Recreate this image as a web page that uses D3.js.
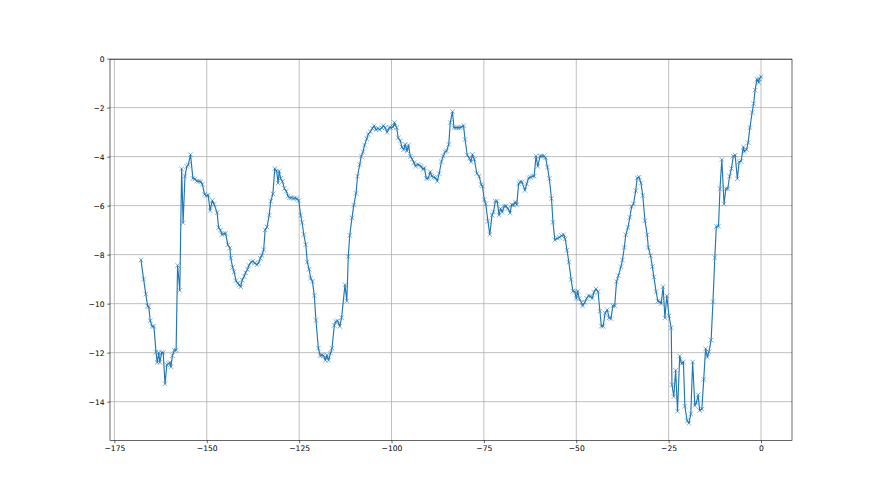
<!DOCTYPE html>
<html>
<head>
<meta charset="utf-8">
<script src="https://cdn.jsdelivr.net/npm/d3@7"></script>
<style>
  body { margin: 0; background: #fff; }
  text { font-family: "DejaVu Sans", sans-serif; }
</style>
</head>
<body>
<div id="chart"></div>
<script>
// data, three stretches west -> east
var xWest = [-167.8,-167.1,-166.5,-166.0,-165.7,-165.3,-164.8,-164.3,-163.75,-163.4,
  -163.0,-162.7,-162.2,-161.8,-161.3,-160.8,-160.4,-160.0,-159.7,-159.3,
  -158.8,-158.3,-157.9,-157.3,-156.8,-156.4,-155.9,-155.4,-155.0,-154.4,
  -153.75,-153.2,-152.7,-152.1,-151.6,-151.2,-150.6,-150.1,-149.6,-149.1,
  -148.5,-148.0,-147.2,-146.8,-146.3,-145.9,-145.4,-144.9,-144.3,-143.75,
  -143.5,-143.0,-142.6,-142.1,-141.6,-141.25,-140.8,-140.4,-139.9,-139.5,
  -139.0,-138.6,-138.0,-137.5,-137.05,-136.4,-136.0,-135.5,-135.1,-134.6,
  -134.2,-133.7,-133.1,-132.7,-132.1,-131.6,-131.1,-130.7,-130.4,-130.0,
  -129.5,-129.0,-128.5,-128.0,-127.6,-127.1,-126.5,-126.1,-125.6,-125.1,
  -124.6,-124.2,-123.75,-123.2,-122.8,-122.3,-121.9,-121.4,-120.9,-120.45,
  -119.8,-119.3,-118.8,-118.4,-117.9,-117.5,-117.05,-116.5,-116.1,-115.5,
  -115.1,-114.6,-114.0];
var yWest = [-8.22,-9.0,-9.61,-10.1,-10.13,-10.7,-10.93,-10.93,-11.98,-12.4,
  -12.0,-12.4,-12.0,-12.0,-13.27,-12.5,-12.45,-12.4,-12.58,-12.12,
  -11.9,-11.9,-8.44,-9.46,-4.5,-6.7,-4.8,-4.4,-4.34,-3.92,
  -4.89,-4.91,-5.0,-5.01,-5.02,-5.13,-5.54,-5.6,-5.57,-6.2,
  -5.79,-5.95,-6.29,-6.9,-7.0,-7.18,-7.15,-7.13,-7.6,-7.73,
  -8.14,-8.52,-8.7,-9.06,-9.16,-9.24,-9.31,-9.04,-8.89,-8.74,
  -8.61,-8.44,-8.3,-8.27,-8.34,-8.41,-8.34,-8.15,-8.03,-7.8,
  -6.99,-6.87,-6.39,-5.82,-5.52,-4.49,-4.59,-5.08,-4.59,-4.89,
  -5.02,-5.3,-5.41,-5.61,-5.68,-5.68,-5.7,-5.7,-5.72,-5.79,
  -6.39,-6.69,-7.18,-7.59,-8.3,-8.6,-8.96,-9.09,-9.67,-10.68,
  -11.82,-12.12,-12.1,-12.12,-12.31,-12.1,-12.31,-12.02,-11.82,-10.89,
  -10.73,-10.7,-10.93];

var xMid = [-113.5,-112.6,-112.1,-111.7,-111.3,-110.7,-110.2,-109.6,-109.2,-108.6,
  -108.2,-107.7,-107.3,-106.7,-106.3,-105.7,-105.2,-104.7,-104.2,-103.6,
  -103.2,-102.6,-102.2,-101.7,-101.2,-100.6,-100.2,-99.6,-99.2,-98.6,
  -98.2,-97.6,-97.2,-96.7,-96.3,-95.8,-95.4,-94.9,-94.4,-93.9,
  -93.5,-92.9,-92.5,-92.0,-91.5,-91.1,-90.6,-90.1,-89.5,-89.1,
  -88.6,-88.1,-87.6,-87.1,-86.5,-86.0,-85.5,-85.1,-84.5,-84.1,
  -83.5,-83.1,-82.5,-82.0,-81.5,-81.1,-80.5,-80.1,-79.5,-78.9,
  -78.5,-78.1,-77.6,-76.9,-76.3,-75.7,-75.4,-74.9,-74.5,-73.9,
  -73.4,-72.8,-72.4,-71.9,-71.4,-70.9,-70.5,-70.0,-69.5,-69.0,
  -68.5,-67.9,-67.5,-67.0,-66.5,-66.1,-65.6,-65.2,-64.7,-63.9,
  -63.4,-62.9,-62.4,-61.8,-61.4,-60.9,-60.4,-59.8,-59.3,-58.7,
  -58.3,-57.8,-57.3,-56.7,-56.3];
var yMid = [-10.57,-9.23,-9.89,-8.08,-7.21,-6.5,-5.98,-5.5,-4.8,-4.32,
  -3.99,-3.8,-3.53,-3.27,-3.09,-2.98,-2.85,-2.74,-2.9,-2.85,
  -2.9,-2.82,-2.74,-2.82,-3.01,-2.82,-2.82,-2.79,-2.61,-2.82,
  -3.23,-3.36,-3.61,-3.72,-3.5,-3.77,-3.53,-3.99,-4.11,-4.25,
  -4.39,-4.32,-4.35,-4.4,-4.52,-4.46,-4.89,-4.89,-4.62,-4.8,
  -4.84,-4.86,-5.0,-4.69,-4.21,-3.98,-3.8,-3.77,-3.5,-2.61,
  -2.16,-2.82,-2.82,-2.82,-2.82,-2.79,-2.74,-3.3,-3.94,-4.07,
  -4.21,-3.91,-4.11,-4.69,-4.8,-5.14,-5.2,-5.75,-5.93,-6.64,
  -7.18,-6.39,-6.26,-5.82,-5.82,-6.39,-6.12,-6.26,-6.02,-6.02,
  -6.12,-6.3,-5.96,-5.98,-5.85,-5.96,-5.11,-5.03,-5.03,-5.38,
  -5.11,-4.87,-4.84,-4.8,-4.8,-3.98,-4.4,-3.98,-3.98,-3.98,
  -4.05,-4.43,-4.89,-5.71,-6.68];

var xEast = [-55.8,-55.1,-54.5,-54.0,-53.4,-53.0,-52.5,-52.0,-51.4,-50.9,
  -50.4,-50.0,-49.6,-49.2,-48.6,-48.3,-47.7,-47.2,-46.7,-46.1,
  -45.7,-45.2,-44.7,-44.1,-43.6,-43.2,-42.7,-42.2,-41.6,-41.1,
  -40.6,-40.1,-39.6,-39.1,-38.6,-37.9,-37.5,-37.0,-36.6,-36.0,
  -35.5,-35.0,-34.5,-33.9,-33.5,-33.0,-32.5,-32.0,-31.4,-30.8,
  -30.5,-29.9,-29.4,-29.0,-28.4,-27.9,-27.4,-27.0,-26.5,-26.0,
  -25.5,-24.9,-24.3,-24.1,-23.6,-23.1,-22.6,-22.0,-21.5,-21.0,
  -20.6,-20.0,-19.5,-19.0,-18.5,-17.9,-17.5,-17.0,-16.6,-16.0,
  -15.5,-15.0,-14.5,-14.1,-13.5,-13.0,-12.5,-12.1,-11.5,-11.1,
  -10.6,-10.0,-9.5,-9.0,-8.5,-8.0,-7.5,-7.0,-6.4,-5.9,
  -5.4,-4.8,-4.5,-3.9,-3.5,-3.0,-2.4,-2.0,-1.6,-1.1,
  -0.6,-0.45,0.0];
var yEast = [-7.4,-7.33,-7.3,-7.22,-7.19,-7.36,-7.82,-8.31,-9.01,-9.49,
  -9.51,-9.79,-9.49,-9.79,-9.95,-10.09,-9.95,-9.79,-9.68,-9.7,
  -9.79,-9.54,-9.4,-9.51,-10.31,-10.92,-10.92,-10.39,-10.25,-10.58,
  -10.61,-10.09,-10.09,-9.1,-8.86,-8.49,-8.22,-7.71,-7.19,-6.89,
  -6.48,-6.03,-5.93,-5.39,-4.87,-4.84,-5.07,-5.59,-6.62,-7.19,
  -7.71,-8.04,-8.49,-8.91,-9.51,-9.9,-9.92,-10.0,-9.31,-10.58,
  -9.68,-10.5,-10.99,-13.31,-13.79,-12.72,-14.39,-12.14,-12.45,-12.38,
  -14.19,-14.77,-14.88,-14.5,-12.38,-14.16,-14.05,-13.72,-14.36,-14.3,
  -13.09,-11.84,-12.18,-11.97,-11.49,-9.92,-8.12,-6.85,-6.84,-5.31,
  -4.12,-5.93,-5.31,-5.31,-4.8,-4.49,-3.98,-3.94,-4.9,-4.21,
  -4.19,-3.61,-3.8,-3.71,-3.43,-2.82,-2.2,-1.84,-1.29,-0.84,
  -0.98,-0.83,-0.74];

var xTicks = [-175, -150, -125, -100, -75, -50, -25, 0];
var yTicks = [0, -2, -4, -6, -8, -10, -12, -14];

var xs = xWest.concat(xMid, xEast);
var ys = yWest.concat(yMid, yEast);
var data = d3.zip(xs, ys);

// Svg set up (matplotlib style subplot box)
var svgWidth = 880;
var svgHeight = 495;
var margin = { top: 59.4, right: 88, bottom: 54.45, left: 110 };
var width = svgWidth - margin.left - margin.right;
var height = svgHeight - margin.top - margin.bottom;

var svg = d3.select("#chart")
  .append("svg")
  .attr("width", svgWidth)
  .attr("height", svgHeight);

var chartGroup = svg.append("g")
  .attr("transform", `translate(${margin.left}, ${margin.top})`);

// 5% padding on each side, like matplotlib autoscale
function padded(ext) {
  var pad = (ext[1] - ext[0]) * 0.05;
  return [ext[0] - pad, ext[1] + pad];
}

var xLinearScale = d3.scaleLinear()
  .domain(padded(d3.extent(xs)))
  .range([0, width]);

var yLinearScale = d3.scaleLinear()
  .domain(padded(d3.extent(ys)))
  .range([height, 0]);

var fmt = d => d < 0 ? "\u2212" + Math.abs(d) : String(d);
var tickLen = 2.7;
var fontSize = 7.6;

// grid
chartGroup.append("g")
  .selectAll("line")
  .data(xTicks)
  .enter()
  .append("line")
  .attr("x1", d => xLinearScale(d))
  .attr("x2", d => xLinearScale(d))
  .attr("y1", 0)
  .attr("y2", height)
  .attr("stroke", "#b0b0b0")
  .attr("stroke-width", 0.8);

chartGroup.append("g")
  .selectAll("line")
  .data(yTicks)
  .enter()
  .append("line")
  .attr("x1", 0)
  .attr("x2", width)
  .attr("y1", d => yLinearScale(d))
  .attr("y2", d => yLinearScale(d))
  .attr("stroke", "#b0b0b0")
  .attr("stroke-width", 0.8);

// axes
var bottomAxis = d3.axisBottom(xLinearScale)
  .tickValues(xTicks)
  .tickFormat(fmt)
  .tickSizeInner(tickLen)
  .tickSizeOuter(0)
  .tickPadding(2.7);

var leftAxis = d3.axisLeft(yLinearScale)
  .tickValues(yTicks)
  .tickFormat(fmt)
  .tickSizeInner(tickLen)
  .tickSizeOuter(0)
  .tickPadding(2.7);

var xAxis = chartGroup.append("g")
  .attr("transform", `translate(0, ${height})`)
  .call(bottomAxis);

var yAxis = chartGroup.append("g")
  .call(leftAxis);

[xAxis, yAxis].forEach(function(ax) {
  ax.select(".domain").remove();
  ax.selectAll(".tick line").attr("stroke", "#000").attr("stroke-width", 0.6);
  ax.selectAll(".tick text")
    .attr("fill", "#000")
    .style("font-size", fontSize + "px")
    .style("font-family", "'DejaVu Sans', sans-serif");
});

// line
var line = d3.line()
  .x(d => xLinearScale(d[0]))
  .y(d => yLinearScale(d[1]));

chartGroup.append("path")
  .datum(data)
  .attr("d", line)
  .attr("fill", "none")
  .attr("stroke", "#1f77b4")
  .attr("stroke-width", 1.15)
  .attr("stroke-linejoin", "round")
  .attr("stroke-linecap", "square");

// x markers
var ms = 2.3;
chartGroup.append("g")
  .selectAll("path")
  .data(data)
  .enter()
  .append("path")
  .attr("transform", d => `translate(${xLinearScale(d[0])}, ${yLinearScale(d[1])})`)
  .attr("d", `M${-ms},${-ms}L${ms},${ms}M${-ms},${ms}L${ms},${-ms}`)
  .attr("fill", "none")
  .attr("stroke", "#1f77b4")
  .attr("stroke-opacity", 0.85)
  .attr("stroke-width", 0.65);

// frame
chartGroup.append("rect")
  .attr("x", 0)
  .attr("y", 0)
  .attr("width", width)
  .attr("height", height)
  .attr("fill", "none")
  .attr("stroke", "#000")
  .attr("stroke-width", 0.6);
</script>
</body>
</html>
